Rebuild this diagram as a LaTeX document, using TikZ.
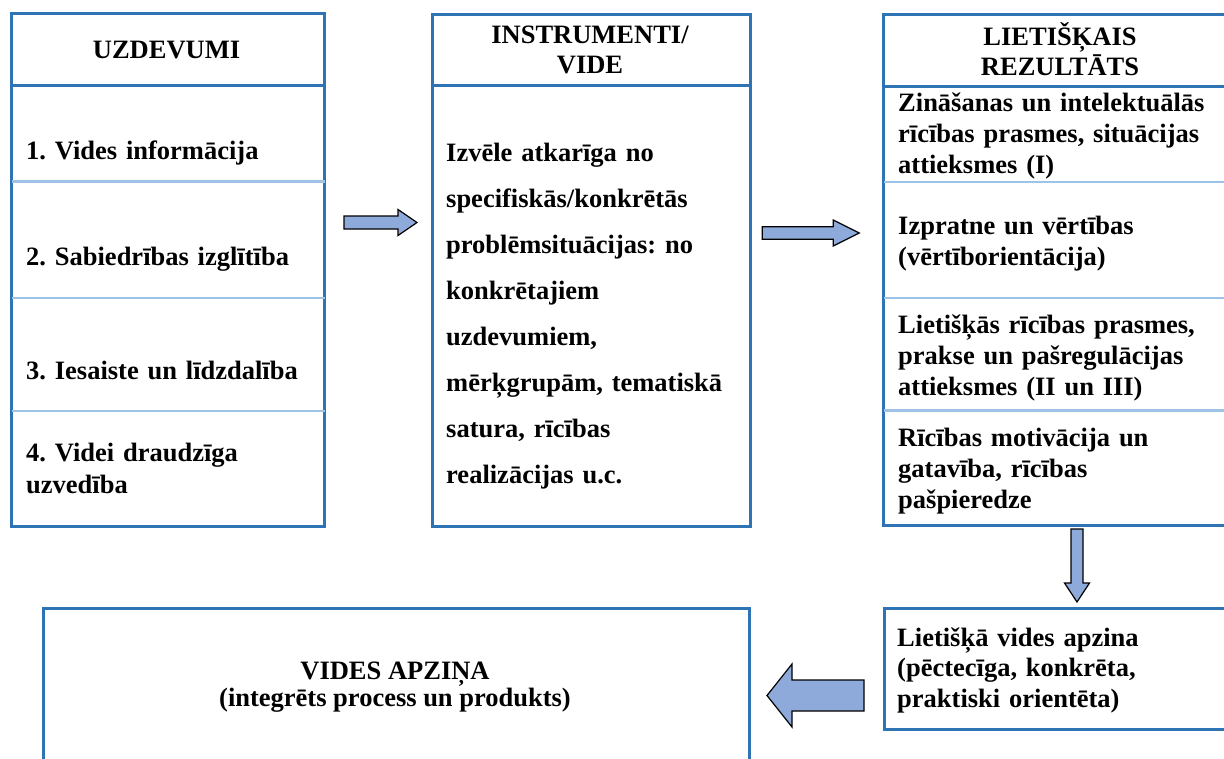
\documentclass[tikz,border=0pt]{standalone}
\usepackage{fontspec}
\setmainfont{Liberation Serif}
\usetikzlibrary{calc}
\frenchspacing
\definecolor{bblue}{HTML}{2E74B5}
\definecolor{lblue}{HTML}{9DC3E6}
\definecolor{afill}{HTML}{8EAADB}
\tikzset{
  box/.style={draw=bblue, line width=3pt, fill=white, rectangle, anchor=north west, inner sep=0pt},
  hline/.style={draw=bblue, line width=3pt},
  sepline/.style={draw=lblue, line width=2.5pt},
  barrow/.style={draw=black, line width=1.2pt, fill=afill, line join=miter},
  txt/.style={anchor=north west, inner sep=0pt, align=left, text width=#1,
    font=\bfseries\fontsize{26.5}{31}\selectfont},
  txt/.default=330pt,
  hdr/.style={anchor=north, inner sep=0pt, align=center,
    font=\bfseries\fontsize{26.5}{30.4}\selectfont},
}
\begin{document}
\frenchspacing
\begin{tikzpicture}[x=1pt, y=-1pt]
\useasboundingbox (0,0) rectangle (1224,758);
\clip (0,0) rectangle (1224,758);

% boxes
\node[box, minimum width=313pt, minimum height=512.6pt] (L) at (10,12.4) {};
\node[box, minimum width=318pt, minimum height=512pt] (M) at (431,13) {};
\node[box, minimum width=360pt, minimum height=511.2pt] (R) at (882,12.8) {};
\node[box, minimum width=360pt, minimum height=121pt] (BR) at (883,607) {};
\node[box, minimum width=706pt, minimum height=170pt] (BL) at (42,607) {};

% header lines
\draw[hline] (L.west |- 0,85.4) -- (L.east |- 0,85.4);
\draw[hline] (M.west |- 0,85) -- (M.east |- 0,85);
\draw[hline] (R.west |- 0,86.2) -- (R.east |- 0,86.2);

% separators
\foreach \y in {181.5,297.9,410.8}
  \draw[sepline] ([xshift=1.5pt]L.west |- 0,\y) -- ([xshift=-1.5pt]L.east |- 0,\y);
\foreach \y in {181.9,298.2,410.7}
  \draw[sepline] ([xshift=1.5pt]R.west |- 0,\y) -- (R.east |- 0,\y);

% left box texts
\node[hdr] (Lh) at (166.5,37.5) {\strut UZDEVUMI};
\node[txt] (L1) at (26,137.3) {\strut 1. Vides informācija};
\node[txt] (L2) at (26,243.3) {\strut 2. Sabiedrības izglītība};
\node[txt] (L3) at (26,357.1) {\strut 3. Iesaiste un līdzdalība};
\node[txt, font=\bfseries\fontsize{26.5}{31.6}\selectfont] (L4) at (26,439.2) {\strut 4. Videi draudzīga\\uzvedība};

% middle box texts
\node[hdr] (Mh) at (590,21.7) {\strut INSTRUMENTI/\\VIDE};
\node[txt, font=\bfseries\fontsize{26.5}{46.1}\selectfont] (Mb) at (446,128.7)
  {\strut Izvēle atkarīga no\\specifiskās/konkrētās\\problēmsituācijas: no\\konkrētajiem\\uzdevumiem,\\mērķgrupām, tematiskā\\satura, rīcības\\realizācijas u.c.};

% right box texts
\node[hdr] (Rh) at (1060,22) {\strut LIETIŠĶAIS\\REZULTĀTS};
\node[txt] (R1) at (898,89.9) {\strut Zināšanas un intelektuālās\\rīcības prasmes, situācijas\\attieksmes (I)};
\node[txt] (R2) at (898,212.3) {\strut Izpratne un vērtības\\(vērtīborientācija)};
\node[txt] (R3) at (898,311.3) {\strut Lietišķās rīcības prasmes,\\prakse un pašregulācijas\\attieksmes (II un III)};
\node[txt] (R4) at (898,424.3) {\strut Rīcības motivācija un\\gatavība, rīcības\\pašpieredze};

% bottom right text
\node[txt, font=\bfseries\fontsize{26.5}{30.5}\selectfont] (BRt) at (897,624.6) {\strut Lietišķā vides apzina\\(pēctecīga, konkrēta,\\praktiski orientēta)};

% bottom left text
\node[hdr, font=\bfseries\fontsize{26.5}{27.4}\selectfont] (BLt) at (395,660.1) {\strut VIDES APZIŅA\\(integrēts process un produkts)};

% block arrows
\coordinate (a1) at (344,222.5);
\coordinate (a2) at (762.3,233);
\coordinate (a3) at (1077,529);
\coordinate (a4) at (864,695.5);
\draw[barrow] (a1) ++(0,-6.5) -- ++(54,0) -- ++(0,-6.5) -- ++(19,13) -- ++(-19,13) -- ++(0,-6.5) -- ++(-54,0) -- cycle;
\draw[barrow] (a2) ++(0,-6.3) -- ++(71,0) -- ++(0,-6.7) -- ++(26,13) -- ++(-26,13) -- ++(0,-6.7) -- ++(-71,0) -- cycle;
\draw[barrow] (a3) ++(-6,0) -- ++(0,54) -- ++(-6.5,0) -- ++(12.5,19) -- ++(12.5,-19) -- ++(-6.5,0) -- ++(0,-54) -- cycle;
\draw[barrow] (a4) ++(0,-15.5) -- ++(-72,0) -- ++(0,-16) -- ++(-25,31.5) -- ++(25,31.5) -- ++(0,-16) -- ++(72,0) -- cycle;
\end{tikzpicture}
\end{document}
